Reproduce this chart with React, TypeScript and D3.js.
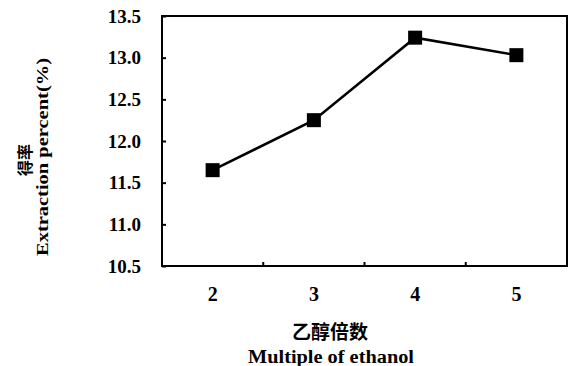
import React, { useEffect, useRef } from 'react';
import * as d3 from 'd3';

// ethanol multiple vs. extraction percent
const multiples = ['2', '3', '4', '5'];
const extraction = [11.65, 12.25, 13.24, 13.03];
const yTicks = [10.5, 11.0, 11.5, 12.0, 12.5, 13.0, 13.5];

const App = () => {
  const svgRef = useRef<SVGSVGElement>(null);

  useEffect(() => {
    const svg = d3.select(svgRef.current);
    svg.selectAll('*').remove();

    const width = 569;
    const height = 366;
    const margin = { top: 16, right: 2, bottom: 100, left: 162 };
    const serif = '"Liberation Serif", "Times New Roman", serif';
    const cjk = '"Noto Sans CJK SC", sans-serif';

    const x = d3
      .scaleBand()
      .domain(multiples)
      .range([margin.left, width - margin.right]);

    const y = d3
      .scaleLinear()
      .domain([10.5, 13.5])
      .range([height - margin.bottom, margin.top]);

    // frame
    svg
      .append('rect')
      .attr('x', margin.left)
      .attr('y', margin.top)
      .attr('width', width - margin.right - margin.left)
      .attr('height', height - margin.bottom - margin.top)
      .attr('fill', 'none')
      .attr('stroke', '#000')
      .attr('stroke-width', 2);

    // y axis: small ticks pointing inside
    const yAxis = svg
      .append('g')
      .attr('transform', `translate(${margin.left},0)`)
      .call(
        d3
          .axisLeft(y)
          .tickValues(yTicks)
          .tickSize(-4)
          .tickPadding(21)
          .tickFormat(d3.format('.1f'))
      );
    yAxis.select('.domain').remove();
    yAxis.selectAll('line').attr('stroke-width', 2);
    yAxis
      .selectAll('text')
      .attr('font-family', serif)
      .attr('font-weight', 'bold')
      .attr('font-size', 19)
      .attr('fill', '#000');

    // x axis: category labels, ticks between categories
    const xAxis = svg
      .append('g')
      .attr('transform', `translate(0,${height - margin.bottom})`)
      .call(d3.axisBottom(x).tickSize(0).tickPadding(21));
    xAxis.select('.domain').remove();
    xAxis
      .selectAll('text')
      .attr('font-family', serif)
      .attr('font-weight', 'bold')
      .attr('font-size', 20)
      .attr('fill', '#000');

    svg
      .append('g')
      .selectAll('line')
      .data(multiples.slice(1))
      .join('line')
      .attr('x1', d => x(d) as number)
      .attr('x2', d => x(d) as number)
      .attr('y1', height - margin.bottom)
      .attr('y2', height - margin.bottom - 4)
      .attr('stroke', '#000')
      .attr('stroke-width', 2);

    // line + square markers
    const pts = multiples.map((m, i) => ({ m, v: extraction[i] }));
    const line = d3
      .line<{ m: string; v: number }>()
      .x(d => (x(d.m) as number) + x.bandwidth() / 2)
      .y(d => y(d.v));

    svg
      .append('path')
      .datum(pts)
      .attr('d', line)
      .attr('fill', 'none')
      .attr('stroke', '#000')
      .attr('stroke-width', 2.5);

    const s = 14;
    svg
      .append('g')
      .selectAll('rect')
      .data(pts)
      .join('rect')
      .attr('x', d => (x(d.m) as number) + x.bandwidth() / 2 - s / 2)
      .attr('y', d => y(d.v) - s / 2)
      .attr('width', s)
      .attr('height', s)
      .attr('fill', '#000');

    // y title
    svg
      .append('text')
      .attr('transform', 'translate(31,160) rotate(-90)')
      .attr('text-anchor', 'middle')
      .attr('font-family', cjk)
      .attr('font-weight', 'bold')
      .attr('font-size', 16)
      .text('得率');
    svg
      .append('text')
      .attr('transform', 'translate(48,157) rotate(-90)')
      .attr('text-anchor', 'middle')
      .attr('font-family', serif)
      .attr('font-weight', 'bold')
      .attr('font-size', 17)
      .attr('textLength', 198)
      .attr('lengthAdjust', 'spacingAndGlyphs')
      .text('Extraction percent(%)');

    // x title
    svg
      .append('text')
      .attr('x', 330)
      .attr('y', 339)
      .attr('text-anchor', 'middle')
      .attr('font-family', cjk)
      .attr('font-weight', 'bold')
      .attr('font-size', 19)
      .text('乙醇倍数');
    svg
      .append('text')
      .attr('x', 331)
      .attr('y', 363)
      .attr('text-anchor', 'middle')
      .attr('font-family', serif)
      .attr('font-weight', 'bold')
      .attr('font-size', 18)
      .attr('textLength', 166)
      .attr('lengthAdjust', 'spacingAndGlyphs')
      .text('Multiple of ethanol');
  }, []);

  return (
    <svg
      ref={svgRef}
      width={569}
      height={366}
      style={{ position: 'absolute', left: 0, top: 0, background: '#fff' }}
    />
  );
};

export default App;
